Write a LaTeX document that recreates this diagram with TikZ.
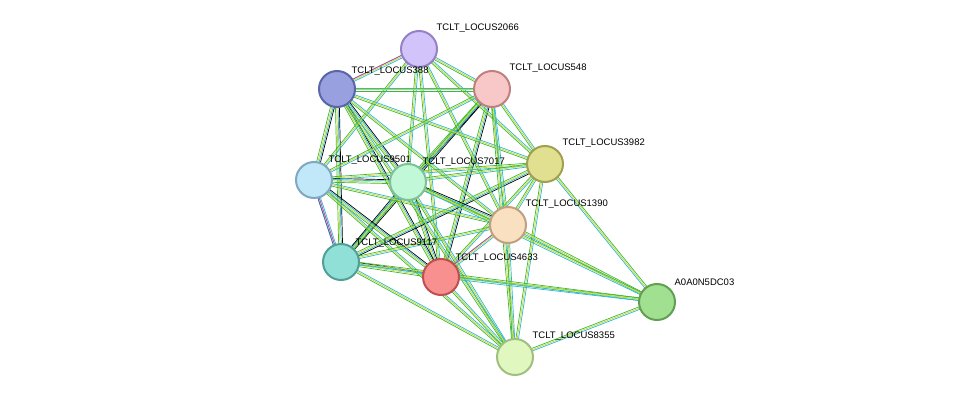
\documentclass[tikz,border=0pt]{standalone}
\usepackage{fontspec}
\setmainfont{Liberation Sans}
\usetikzlibrary{calc}

\definecolor{sgreen}{HTML}{3CB83C}
\definecolor{syellow}{HTML}{C8D828}
\definecolor{scyan}{HTML}{28B8D8}
\definecolor{spurple}{HTML}{C040C8}
\definecolor{sblue}{HTML}{4060E0}

\tikzset{
  prot/.style={circle, minimum size=36pt, inner sep=0pt, line width=2pt},
  lab/.style={font=\fontsize{9.5}{11}\selectfont, inner sep=1pt, anchor=south west},
}

% bundle of parallel strands from node #1 to node #2
\newcommand{\strands}[3]{%
  \foreach \c [count=\i, evaluate=\i as \o using (\i-2.5)*1.3] in {#3}
    \draw[\c, line width=0.7pt] ($(#1)!\o pt!90:(#2)$) -- ($(#2)!\o pt!-90:(#1)$);
}

\begin{document}
\begin{tikzpicture}[x=1pt, y=-1pt]
  \useasboundingbox (0,0) rectangle (975,404);

  % positions
  \coordinate (p2066) at (419,49);
  \coordinate (p388) at (337,89);
  \coordinate (p548) at (492,89);
  \coordinate (p3982) at (545,164);
  \coordinate (p9501) at (314,180);
  \coordinate (p7017) at (408,182);
  \coordinate (p1390) at (508,225);
  \coordinate (p9117) at (341,262);
  \coordinate (p4633) at (441,277);
  \coordinate (pA0A0) at (657,302);
  \coordinate (p8355) at (515,357);

  % edges
  \foreach \a/\b in {p388/p9501, p388/p7017, p388/p9117, p548/p7017, p548/p9117,
                     p9501/p7017, p9117/p7017, p7017/p4633, p9501/p4633, p388/p4633,
                     p548/p4633, p9117/p4633, p3982/p9117, p7017/p1390}
    {\strands{\a}{\b}{sgreen,syellow,scyan,black}}
  \foreach \a/\b in {p2066/p388, p2066/p548, p2066/p9501, p2066/p7017, p2066/p1390,
                     p2066/p4633, p2066/p3982, p388/p548, p388/p3982, p388/p1390,
                     p548/p3982, p548/p9501, p548/p1390, p548/p8355, p3982/p9501,
                     p3982/p7017, p3982/p1390, p3982/p4633, p3982/p8355, p9501/p1390,
                     p9501/p9117, p9501/p8355, p7017/p8355, p1390/p9117, p1390/p4633,
                     p1390/p8355, p9117/p8355, p4633/p8355, p388/p8355,
                     pA0A0/p3982, pA0A0/p1390, pA0A0/p4633, pA0A0/p9117, pA0A0/p8355,
                     pA0A0/p7017}
    {\strands{\a}{\b}{sgreen,syellow,scyan}}
  \strands{p2066}{p388}{spurple}
  \strands{p9501}{p9117}{sblue,spurple}
  \strands{p1390}{p4633}{spurple}

  % proteins
  \node[prot, fill={rgb,255:red,210;green,196;blue,250}, draw={rgb,255:red,150;green,128;blue,200}] (n2066) at (p2066)
    [label={[lab, xshift=3pt, yshift=2pt]north east:TCLT\_LOCUS2066}] {};
  \node[prot, fill={rgb,255:red,152;green,160;blue,224}, draw={rgb,255:red,90;green,102;blue,168}] (n388) at (p388)
    [label={[lab, xshift=0pt, yshift=-1pt]north east:TCLT\_LOCUS388}] {};
  \node[prot, fill={rgb,255:red,248;green,200;blue,200}, draw={rgb,255:red,192;green,128;blue,128}] (n548) at (p548)
    [label={[lab, xshift=3pt, yshift=2pt]north east:TCLT\_LOCUS548}] {};
  \node[prot, fill={rgb,255:red,224;green,224;blue,144}, draw={rgb,255:red,160;green,160;blue,80}] (n3982) at (p3982)
    [label={[lab, xshift=3pt, yshift=2pt]north east:TCLT\_LOCUS3982}] {};
  \node[prot, fill={rgb,255:red,192;green,232;blue,248}, draw={rgb,255:red,128;green,168;blue,192}] (n9501) at (p9501)
    [label={[lab, yshift=1pt]north east:TCLT\_LOCUS9501}] {};
  \node[prot, fill={rgb,255:red,192;green,248;blue,216}, draw={rgb,255:red,128;green,192;blue,152}] (n7017) at (p7017)
    [label={[lab, yshift=1pt, xshift=0pt]north east:TCLT\_LOCUS7017}] {};
  \node[prot, fill={rgb,255:red,248;green,224;blue,192}, draw={rgb,255:red,192;green,160;blue,128}] (n1390) at (p1390)
    [label={[lab, xshift=3pt, yshift=2pt]north east:TCLT\_LOCUS1390}] {};
  \node[prot, fill={rgb,255:red,144;green,224;blue,216}, draw={rgb,255:red,80;green,160;blue,152}] (n9117) at (p9117)
    [label={[lab, yshift=0pt]north east:TCLT\_LOCUS9117}] {};
  \node[prot, fill={rgb,255:red,248;green,144;blue,144}, draw={rgb,255:red,192;green,80;blue,80}] (n4633) at (p4633)
    [label={[lab, yshift=0pt]north east:TCLT\_LOCUS4633}] {};
  \node[prot, fill={rgb,255:red,160;green,224;blue,144}, draw={rgb,255:red,96;green,160;blue,80}] (nA0A0) at (pA0A0)
    [label={[lab, xshift=3pt, yshift=2pt]north east:A0A0N5DC03}] {};
  \node[prot, fill={rgb,255:red,224;green,248;blue,192}, draw={rgb,255:red,160;green,192;blue,128}] (n8355) at (p8355)
    [label={[lab, xshift=3pt, yshift=2pt]north east:TCLT\_LOCUS8355}] {};
\end{tikzpicture}
\end{document}
